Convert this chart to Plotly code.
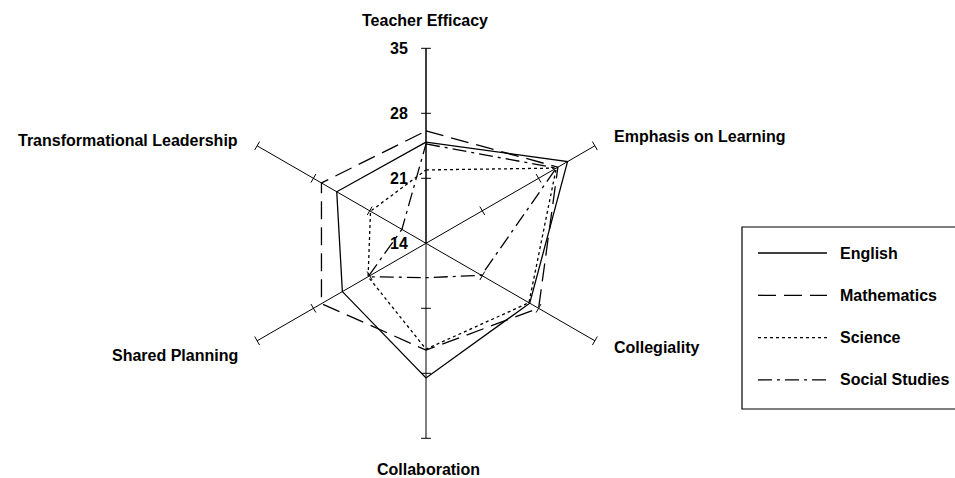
import plotly.graph_objects as go

# 六个维度, 从顶部顺时针排列
categories = [
    "Teacher Efficacy", "Emphasis on Learning", "Collegiality",
    "Collaboration", "Shared Planning", "Transformational Leadership",
]

english = [24.9, 31.6, 26.9, 28.5, 24.4, 25.1]
mathematics = [26.1, 30.4, 28.0, 25.5, 27.0, 27.0]
science = [21.9, 30.2, 26.8, 25.4, 21.2, 20.9]
social_studies = [24.7, 30.2, 20.9, 17.7, 21.2, 17.0]

series_names = ["English", "Mathematics", "Science", "Social Studies"]
radial_ticks = [14, 21, 28, 35]

DASHES = {
    "English": "solid",
    "Mathematics": "18px,8px",
    "Science": "3px,3px",
    "Social Studies": "14px,5px,3px,5px",
}
FONT = dict(family="Liberation Sans, Arial, sans-serif", size=16, color="black", weight="bold")
W, H = 955, 478


def px(x, y):
    """像素坐标 -> paper 坐标"""
    return x / W, 1 - y / H


fig = go.Figure()

for name, values in zip(series_names, [english, mathematics, science, social_studies]):
    fig.add_trace(go.Scatterpolar(
        r=values + values[:1], theta=categories + categories[:1],
        mode="lines", name=name, showlegend=False,
        line=dict(color="black", width=1.3, dash=DASHES[name]),
    ))

# 每条轴上的刻度线
tick_r, tick_theta, tick_angle = [], [], []
for i, cat in enumerate(categories):
    for r in radial_ticks[1:]:
        tick_r.append(r)
        tick_theta.append(cat)
        tick_angle.append(i * 360 / len(categories))
fig.add_trace(go.Scatterpolar(
    r=tick_r, theta=tick_theta, mode="markers", showlegend=False, hoverinfo="skip",
    marker=dict(symbol="line-ew", size=7, angle=tick_angle, color="black",
                line=dict(color="black", width=1)),
))

# 轴标签
label_pos = {
    "Teacher Efficacy": (425, 20, "center"),
    "Emphasis on Learning": (612, 136, "left"),
    "Collegiality": (612, 347, "left"),
    "Collaboration": (428, 469, "center"),
    "Shared Planning": (240, 355, "right"),
    "Transformational Leadership": (240, 140, "right"),
}
annotations = []
for cat in categories:
    x, y, anchor = label_pos[cat]
    ax, ay = px(x, y)
    annotations.append(dict(text=cat, x=ax, y=ay, xref="paper", yref="paper",
                            xanchor=anchor, yanchor="middle", showarrow=False, font=FONT))

# 手工图例
shapes = []
x0, y0 = px(742, 227)
x1, y1 = px(975, 409)
shapes.append(dict(type="rect", xref="paper", yref="paper", x0=x0, y0=y1, x1=x1, y1=y0,
                   line=dict(color="black", width=1.2), fillcolor="white", layer="below"))
for i, name in enumerate(series_names):
    yy = 253 + i * 42.3
    lx0, ly = px(758, yy)
    lx1, _ = px(827, yy)
    shapes.append(dict(type="line", xref="paper", yref="paper", x0=lx0, x1=lx1, y0=ly, y1=ly,
                       line=dict(color="black", width=1.3, dash=DASHES[name])))
    tx, ty = px(838, yy)
    annotations.append(dict(text=name, x=tx, y=ty, xref="paper", yref="paper",
                            xanchor="left", yanchor="middle", showarrow=False, font=FONT))

cx, cy, rad = 426, 243.3, 195
fig.update_layout(
    width=W, height=H,
    margin=dict(l=0, r=0, t=0, b=0),
    paper_bgcolor="white",
    font=FONT,
    polar=dict(
        domain=dict(x=[(cx - rad) / W, (cx + rad) / W],
                    y=[1 - (cy + rad) / H, 1 - (cy - rad) / H]),
        bgcolor="white",
        radialaxis=dict(
            range=[14, 35], tickvals=radial_ticks, angle=90, side="counterclockwise",
            showline=True, linecolor="black", linewidth=1, showgrid=False,
            ticks="outside", ticklen=12, tickcolor="rgba(0,0,0,0)",
            tickangle=90, tickfont=FONT,
        ),
        angularaxis=dict(
            rotation=90, direction="clockwise",
            showgrid=True, gridcolor="black", gridwidth=1,
            showline=False, ticks="", showticklabels=False,
        ),
    ),
    annotations=annotations,
    shapes=shapes,
)

# 去掉页面默认边距, 让图从左上角开始
fig.write_html(
    "out.html",
    config={"displayModeBar": False},
    post_script="document.body.style.margin = '0';",
)
